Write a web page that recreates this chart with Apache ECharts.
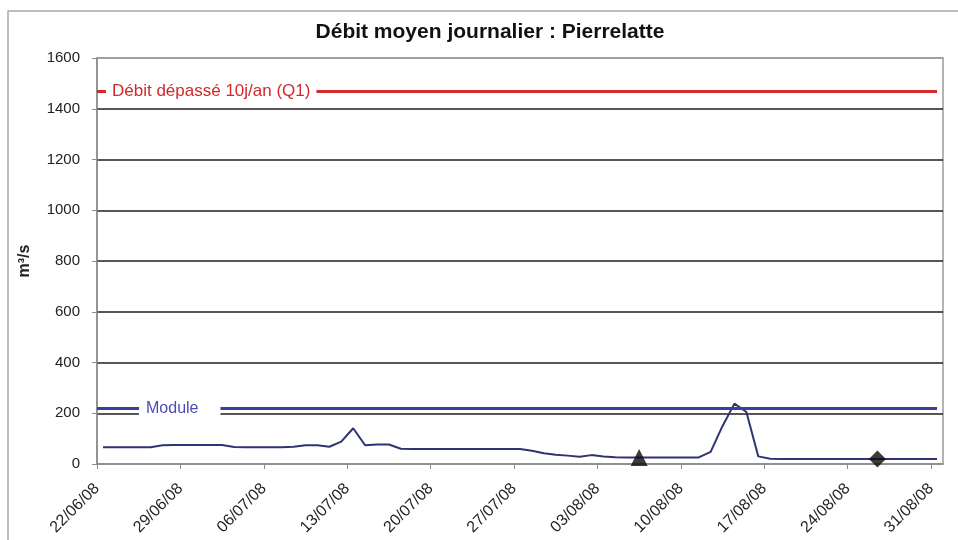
<!DOCTYPE html>
<html>
<head>
<meta charset="utf-8">
<style>
  html, body { margin: 0; padding: 0; background: #fff; }
  #chart { width: 958px; height: 540px; }
</style>
<script src="https://cdn.jsdelivr.net/npm/echarts@6/dist/echarts.min.js"></script>
</head>
<body>
<div id="chart"></div>
<script>
// Daily mean discharge, one value per day from 22/06/08 to 31/08/08 (m³/s)
const flow = [
  66, 66, 66, 66, 66, 74, 75, 75, 75, 75,
  75, 67, 66, 66, 66, 66, 68, 74, 74, 68,
  88, 141, 74, 77, 77, 60, 59, 59, 59, 59,
  59, 59, 59, 59, 59, 59, 52, 42, 36, 33,
  29, 35, 30, 27, 26, 26, 26, 26, 26, 26,
  26, 48, 150, 238, 205, 30, 21, 20, 20, 20,
  20, 20, 20, 20, 20, 20, 20, 20, 20, 20,
  20
];
// Reference levels (m³/s)
const moduleValue = 218;
const q1Value = 1470;
const moduleLabel = 'Module';
const q1Label = 'Débit dépassé 10j/an (Q1)';
// Marked days (index into flow)
const triangleDays = [45];
const diamondDays = [65];
// Weekly axis labels
const tickLabels = ['22/06/08', '29/06/08', '06/07/08', '13/07/08', '20/07/08', '27/07/08',
  '03/08/08', '10/08/08', '17/08/08', '24/08/08', '31/08/08'];
const yTicks = [0, 200, 400, 600, 800, 1000, 1200, 1400, 1600];

const FONT = "'Liberation Sans', Arial, sans-serif";
const dayCount = flow.length;
// each daily value sits in the middle of its day
const flowData = flow.map((v, i) => [i + 0.5, v]);
const lastX = dayCount - 0.5;

const chart = echarts.init(document.getElementById('chart'), null, { renderer: 'canvas' });

// plot frame lines (0 and top) are grey, inner grid lines are dark
const gridColors = yTicks.map((t, i) => (i === 0 || i === yTicks.length - 1) ? '#9a9a9a' : '#1e1e1e');

chart.setOption({
  backgroundColor: '#ffffff',
  animation: false,
  title: {
    text: 'Débit moyen journalier : Pierrelatte',
    left: 485,
    top: 17,
    textAlign: 'center',
    textStyle: { fontFamily: FONT, fontSize: 21, fontWeight: 'bold', color: '#111' }
  },
  graphic: [{
    type: 'rect',
    shape: { x: 8, y: 11, width: 1000, height: 600 },
    style: { fill: 'none', stroke: '#a8a8a8', lineWidth: 1.5 },
    silent: true
  }],
  grid: {
    left: 97, right: 15, top: 58, bottom: 76,
    show: true, borderColor: '#9a9a9a', borderWidth: 1.5, backgroundColor: 'transparent'
  },
  xAxis: {
    type: 'value',
    min: 0,
    max: dayCount,
    interval: 7,
    axisLine: { show: true, lineStyle: { color: '#8a8a8a', width: 1.5 } },
    axisTick: { show: true, length: 5, lineStyle: { color: '#8a8a8a' } },
    splitLine: { show: false },
    axisLabel: {
      rotate: 45,
      margin: 22,
      fontFamily: FONT,
      fontSize: 16,
      color: '#222',
      showMaxLabel: false,
      formatter: v => tickLabels[Math.round(v / 7)] || ''
    }
  },
  yAxis: {
    type: 'value',
    min: yTicks[0],
    max: yTicks[yTicks.length - 1],
    interval: 200,
    name: 'm³/s',
    nameLocation: 'middle',
    nameGap: 64,
    nameRotate: 90,
    nameTextStyle: { fontFamily: FONT, fontSize: 16, fontWeight: 'bold', color: '#222' },
    axisLine: { show: true, lineStyle: { color: '#8a8a8a', width: 1.5 } },
    axisTick: { show: true, length: 5, lineStyle: { color: '#8a8a8a' } },
    axisLabel: { fontFamily: FONT, fontSize: 15, color: '#222', margin: 17, formatter: v => String(v) },
    splitLine: { show: true, lineStyle: { color: gridColors, width: 1.5 } }
  },
  series: [
    {
      name: 'Débit',
      type: 'line',
      data: flowData,
      showSymbol: false,
      symbol: 'none',
      lineStyle: { color: '#2f3374', width: 2 },
      z: 3,
      markLine: {
        silent: true,
        symbol: 'none',
        animation: false,
        data: [
          [
            {
              coord: [0, q1Value],
              lineStyle: { color: '#d42a2a', width: 3, type: 'solid' },
              label: {
                show: true,
                formatter: q1Label,
                position: 'insideStartTop',
                distance: 0,
                offset: [9, 12],
                color: '#d02a2a',
                fontFamily: FONT,
                fontSize: 17,
                backgroundColor: '#ffffff',
                padding: [3, 6, 3, 6]
              }
            },
            { coord: [lastX, q1Value] }
          ],
          [
            {
              coord: [0, moduleValue],
              lineStyle: { color: '#3a3f9e', width: 3, type: 'solid' },
              label: {
                show: true,
                formatter: moduleLabel,
                position: 'insideStartTop',
                distance: 0,
                offset: [42, 14],
                color: '#4a4cb0',
                fontFamily: FONT,
                fontSize: 16,
                backgroundColor: '#ffffff',
                padding: [4, 22, 6, 7]
              }
            },
            { coord: [lastX, moduleValue] }
          ]
        ]
      }
    },
    {
      name: 'triangle',
      type: 'scatter',
      symbol: 'triangle',
      symbolSize: 17,
      itemStyle: { color: '#0a0a0a' },
      data: triangleDays.map(d => [d + 0.5, flow[d]]),
      z: 5
    },
    {
      name: 'diamond',
      type: 'scatter',
      symbol: 'diamond',
      symbolSize: 17,
      itemStyle: { color: '#0a0a0a' },
      data: diamondDays.map(d => [d + 0.5, flow[d]]),
      z: 5
    }
  ]
});
</script>
</body>
</html>
